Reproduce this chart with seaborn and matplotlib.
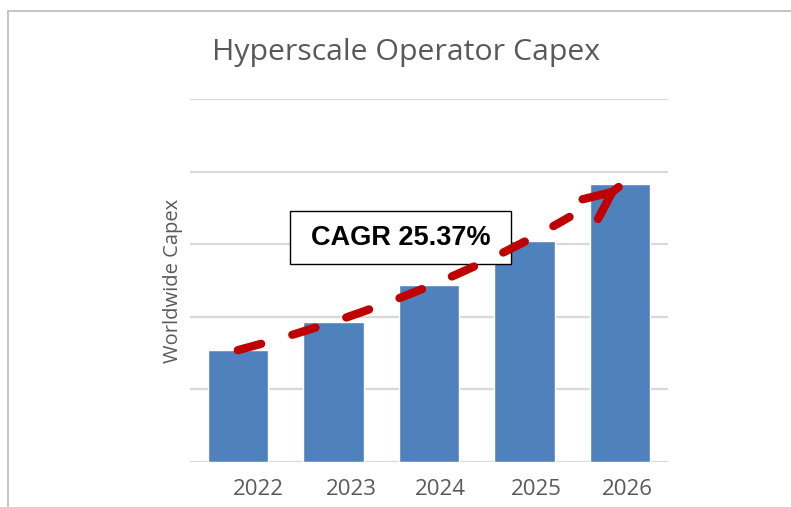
import numpy as np
import matplotlib
matplotlib.use("Agg")
import matplotlib.pyplot as plt
import matplotlib.transforms as mtransforms
from matplotlib.lines import Line2D
from matplotlib.patches import Rectangle
import seaborn as sns

# ── data (one gridline = 1 unit) ────────────────────────────────
years = ["2022", "2023", "2024", "2025", "2026"]
capex = [1.54, 1.93, 2.44, 3.04, 3.83]
cagr = 0.2537
cagr_label = "CAGR 25.37%"

BAR_COLOR = "#4F81BD"
GRID_COLOR = "#D9D9D9"
TEXT_GRAY = "#595959"
ARROW_RED = "#C00000"

sns.set_style("white")
plt.rcParams["font.family"] = ["Open Sans", "DejaVu Sans"]

fig = plt.figure(figsize=(7.91, 5.07), dpi=100)
ax = fig.add_axes([0.2402, 0.0888, 0.6043, 0.7160])

sns.barplot(x=years, y=capex, color=BAR_COLOR, width=0.63, saturation=1,
            ax=ax, zorder=2)

ax.set_xlim(-0.5, 4.5)
ax.set_ylim(0, 5)
ax.set_yticks(np.arange(0, 6, 1))
ax.set_yticklabels([])
ax.yaxis.grid(True, color=GRID_COLOR, linewidth=1.6, zorder=0)
ax.set_axisbelow(True)
for s in ax.spines.values():
    s.set_visible(False)
ax.tick_params(axis="both", length=0)
ax.tick_params(axis="x", pad=12, labelsize=16, labelcolor=TEXT_GRAY)
ax.set_xlabel("")

# tick labels sit a little right of the bar centres in the original
label_shift_px = [21, 18, 11, 12, 7]
for lab, dx in zip(ax.get_xticklabels(), label_shift_px):
    lab.set_transform(lab.get_transform() +
                      mtransforms.ScaledTranslation(dx / 100, 0, fig.dpi_scale_trans))

ax.set_ylabel("Worldwide Capex", fontsize=14.5, color=TEXT_GRAY)
ax.yaxis.set_label_coords(-0.0146, 0.5)

fig.text(0.5133, 1 - 60 / 507, "Hyperscale Operator Capex", ha="center", va="baseline",
         fontsize=21.8, color=TEXT_GRAY)

# CAGR box
ax.add_patch(Rectangle((0.209, 0.545), 0.463, 0.146, transform=ax.transAxes,
                       facecolor="white", edgecolor="black", linewidth=1.0, zorder=4))
ax.text(0.4405, 0.618, cagr_label, transform=ax.transAxes, ha="center", va="center",
        fontsize=19.5, fontweight="bold", family="Liberation Sans", color="black", zorder=5)

# dashed growth curve at the stated CAGR, from the first bar towards the last one
xs = np.linspace(0.0, 3.47, 200)
ys = capex[0] * (1 + cagr) ** xs
ax.plot(xs, ys, color=ARROW_RED, linewidth=6.0, dashes=(2.9, 3.9),
        dash_capstyle="round", solid_capstyle="round", zorder=6)

# open arrow head at the top of the last bar, pointing a bit steeper than the curve
tip_x = len(years) - 1
tip_y = capex[0] * (1 + cagr) ** tip_x
tip_px = ax.transData.transform((tip_x, tip_y))
ang = np.deg2rad(38)
tail = ax.transData.inverted().transform(tip_px - 2 * np.array([np.cos(ang), np.sin(ang)]))
ax.annotate("", xy=(tip_x, tip_y), xytext=tuple(tail),
            arrowprops=dict(arrowstyle="->,head_length=1.0,head_width=0.45",
                            color=ARROW_RED, lw=6.0, mutation_scale=20,
                            capstyle="round", joinstyle="round",
                            shrinkA=0, shrinkB=0), zorder=6)

# grey outer frame (top and left edges only visible)
fig.add_artist(Line2D([8 / 791, 1.0], [1 - 11 / 507, 1 - 11 / 507],
                      transform=fig.transFigure, color="#C0C0C0", linewidth=1.3))
fig.add_artist(Line2D([8 / 791, 8 / 791], [0.0, 1 - 11 / 507],
                      transform=fig.transFigure, color="#C0C0C0", linewidth=1.3))

fig.savefig("out.png", dpi=100)
